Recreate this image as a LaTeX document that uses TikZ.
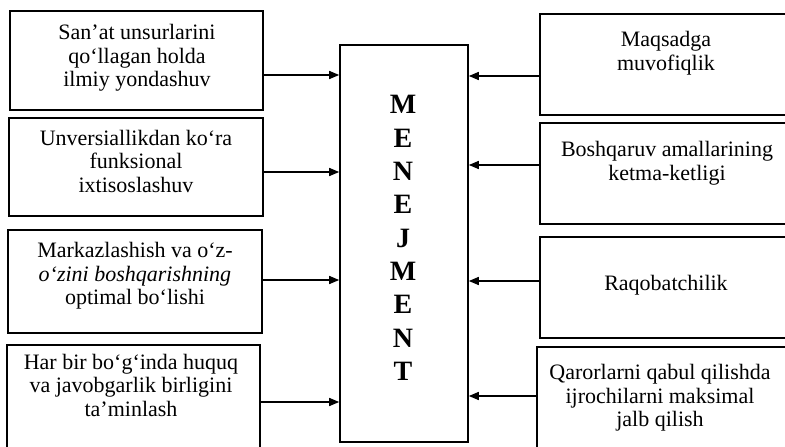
\documentclass[tikz,border=0pt]{standalone}
\usepackage{fontspec}
\setmainfont{Liberation Serif}
\usetikzlibrary{arrows.meta}
\begin{document}
\begin{tikzpicture}[x=1pt, y=-1pt,
  box/.style={draw, line width=1.4pt, inner sep=0pt},
  txt/.style={align=center, inner sep=0pt, font=\fontsize{22}{23.5}\selectfont},
  letters/.style={align=center, inner sep=0pt, font=\fontsize{28}{33.3}\selectfont\bfseries},
  arr/.style={line width=1.4pt, -{Triangle[length=10pt, width=8pt]}}]
\useasboundingbox (0,0) rectangle (785,447);
\clip (0,0) rectangle (785,447);

% CENTRE
\node[box, line width=1.6pt, minimum width=128, minimum height=397] (menejment) at (404, 243.5) {};
\node[letters] (menejmenttxt) at (403, 238) {M\\E\\N\\E\\J\\M\\E\\N\\T};

% LEFT COLUMN
\node[box, minimum width=253, minimum height=99] (lbox1) at (136.5, 60.5) {}; % FIRST BOX
\node[txt] (ltxt1) at (137, 58) {San'at unsurlarini\\qo‘llagan holda\\ilmiy yondashuv};

\node[box, minimum width=254, minimum height=98] (lbox2) at (136, 167) {}; % SECOND BOX
\node[txt] (ltxt2) at (136, 161) {Unversiallikdan ko‘ra\\funksional\\ixtisoslashuv};

\node[box, minimum width=254, minimum height=103] (lbox3) at (135, 281.5) {}; % THIRD BOX
\node[txt] (ltxt3) at (135, 276) {Markazlashish va o‘z-\\\textit{o‘zini boshqarishning}\\optimal bo‘lishi};

\node[box, minimum width=253, minimum height=125] (lbox4) at (133.5, 407.5) {}; % FOURTH BOX
\node[txt] (ltxt4) at (131, 385) {Har bir bo‘g‘inda huquq\\va javobgarlik birligini\\ta'minlash};

% RIGHT COLUMN
\node[box, minimum width=260, minimum height=101] (rbox1) at (670, 64.5) {}; % FIRST BOX
\node[txt] (rtxt1) at (666, 53) {Maqsadga\\muvofiqlik};

\node[box, minimum width=260, minimum height=101] (rbox2) at (670, 173.5) {}; % SECOND BOX
\node[txt] (rtxt2) at (667, 163) {Boshqaruv amallarining\\ketma-ketligi};

\node[box, minimum width=260, minimum height=101] (rbox3) at (670, 287.5) {}; % THIRD BOX
\node[txt] (rtxt3) at (666, 285) {Raqobatchilik};

\node[box, minimum width=263, minimum height=123] (rbox4) at (668.5, 408.5) {}; % FOURTH BOX
\node[txt] (rtxt4) at (660, 398) {Qarorlarni qabul qilishda\\ijrochilarni maksimal\\jalb qilish};

% ARROWS
\draw[arr] (lbox1.east |- 0,75) -- (menejment.west |- 0,75);
\draw[arr] (lbox2.east |- 0,172) -- (menejment.west |- 0,172);
\draw[arr] (lbox3.east |- 0,280) -- (menejment.west |- 0,280);
\draw[arr] (lbox4.east |- 0,402) -- (menejment.west |- 0,402);

\draw[arr] (rbox1.west |- 0,76) -- (menejment.east |- 0,76);
\draw[arr] (rbox2.west |- 0,165) -- (menejment.east |- 0,165);
\draw[arr] (rbox3.west |- 0,281) -- (menejment.east |- 0,281);
\draw[arr] (rbox4.west |- 0,396) -- (menejment.east |- 0,396);
\end{tikzpicture}
\end{document}
